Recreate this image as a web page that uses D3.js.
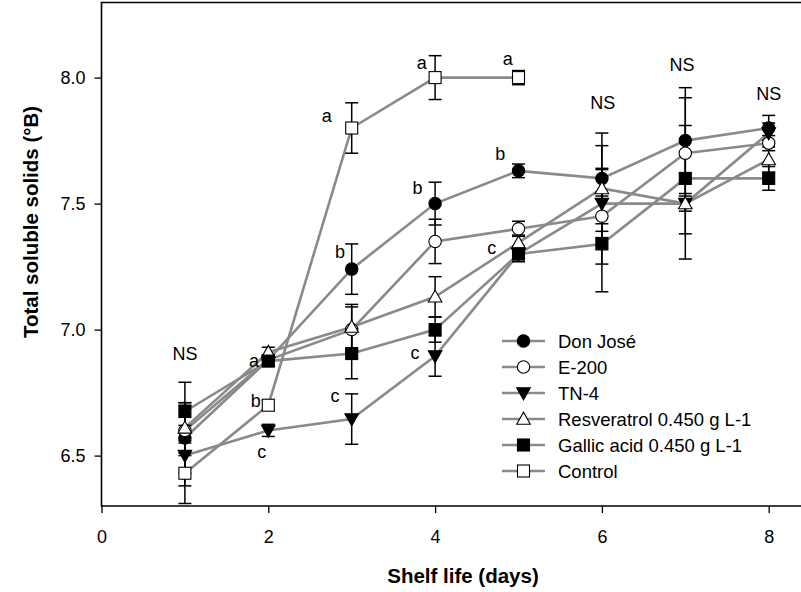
<!DOCTYPE html>
<html>
<head>
<meta charset="utf-8">
<script src="https://cdn.jsdelivr.net/npm/d3@7"></script>
<style>
  body { margin: 0; background: #fff; }
  svg { display: block; font-family: "Liberation Sans", Arial, sans-serif; }
</style>
</head>
<body>
<svg id="chart" width="801" height="592"></svg>
<script>
// Shelf life (days)
var days = [1, 2, 3, 4, 5, 6, 7, 8];
var xTicks = [0, 2, 4, 6, 8];
var yTicks = [6.5, 7.0, 7.5, 8.0];

// Series means and error values (°B)
var donJose = [6.57, 6.88, 7.24, 7.50, 7.63, 7.60, 7.75, 7.80];
var donJoseErr = [0.14, 0.02, 0.10, 0.085, 0.027, 0.18, 0.21, 0.05];
var e200 = [6.60, 6.88, 7.00, 7.35, 7.40, 7.45, 7.70, 7.74];
var e200Err = [0.10, 0.02, 0.09, 0.088, 0.03, 0.19, 0.11, 0.03];
var tn4 = [6.50, 6.60, 6.645, 6.895, 7.30, 7.50, 7.50, 7.78];
var tn4Err = [0.12, 0.024, 0.10, 0.08, 0.03, 0.135, 0.12, 0.04];
var resveratrol = [6.61, 6.91, 7.01, 7.13, 7.345, 7.56, 7.50, 7.675];
var resveratrolErr = [0.10, 0.02, 0.09, 0.08, 0.03, 0.17, 0.03, 0.05];
var gallic = [6.675, 6.875, 6.905, 7.00, 7.30, 7.34, 7.60, 7.60];
var gallicErr = [0.116, 0.02, 0.10, 0.05, 0.03, 0.19, 0.32, 0.047];
var control = [6.43, 6.70, 7.80, 8.00, 8.00];
var controlErr = [0.12, 0.02, 0.10, 0.087, 0.028];

var seriesNames = ["Don José", "E-200", "TN-4", "Resveratrol 0.450 g L-1", "Gallic acid 0.450 g L-1", "Control"];

// Significance letters: text, day, value
var letterText = ["NS", "a", "b", "c", "a", "b", "c", "a", "b", "c", "a", "b", "c", "NS", "NS", "NS"];
var letterDay = [1.0, 1.83, 1.85, 1.92, 2.70, 2.86, 2.80, 3.84, 3.79, 3.76, 4.87, 4.78, 4.68, 6.01, 6.96, 8.0];
var letterVal = [6.905, 6.877, 6.718, 6.517, 7.849, 7.31, 6.738, 8.06, 7.563, 6.909, 8.075, 7.698, 7.325, 7.90, 8.05, 7.937];

var svg = d3.select("#chart");
var x = d3.scaleLinear().domain([0, 8]).range([101.5, 768.7]);
var y = d3.scaleLinear().domain([6.3, 8.3]).range([506, 2]);

var series = [
  { name: seriesNames[0], vals: donJose, err: donJoseErr, shape: "circle", fill: "#000" },
  { name: seriesNames[1], vals: e200, err: e200Err, shape: "circle", fill: "#fff" },
  { name: seriesNames[2], vals: tn4, err: tn4Err, shape: "tridown", fill: "#000" },
  { name: seriesNames[3], vals: resveratrol, err: resveratrolErr, shape: "triup", fill: "#fff" },
  { name: seriesNames[4], vals: gallic, err: gallicErr, shape: "square", fill: "#000" },
  { name: seriesNames[5], vals: control, err: controlErr, shape: "square", fill: "#fff" }
];

function drawMarker(g, shape, fill, cx, cy) {
  if (shape === "circle") {
    g.append("circle").attr("cx", cx).attr("cy", cy).attr("r", 6.2)
      .attr("fill", fill).attr("stroke", "#000").attr("stroke-width", 1.1);
  } else if (shape === "square") {
    g.append("rect").attr("x", cx - 6).attr("y", cy - 6).attr("width", 12).attr("height", 12)
      .attr("fill", fill).attr("stroke", "#000").attr("stroke-width", 1.1);
  } else {
    var dir = shape === "triup" ? -1 : 1;
    var p = [[cx - 6.8, cy - dir * 5.2], [cx + 6.8, cy - dir * 5.2], [cx, cy + dir * 6.8]];
    g.append("path").attr("d", "M" + p.join("L") + "Z")
      .attr("fill", fill).attr("stroke", "#000").attr("stroke-width", 1.1);
  }
}

var plot = svg.append("g");
var line = d3.line().x(function (d) { return x(d[0]); }).y(function (d) { return y(d[1]); });

// Lines first
series.forEach(function (s) {
  var pts = s.vals.map(function (v, i) { return [days[i], v]; });
  plot.append("path").attr("d", line(pts)).attr("fill", "none")
    .attr("stroke", "#8a8a8a").attr("stroke-width", 2.6);
});

// Error bars
series.forEach(function (s) {
  s.vals.forEach(function (v, i) {
    var cx = x(days[i]), top = y(v + s.err[i]), bot = y(v - s.err[i]);
    var eg = plot.append("g").attr("stroke", "#000").attr("stroke-width", 1.5);
    eg.append("line").attr("x1", cx).attr("x2", cx).attr("y1", top).attr("y2", bot);
    eg.append("line").attr("x1", cx - 6.5).attr("x2", cx + 6.5).attr("y1", top).attr("y2", top);
    eg.append("line").attr("x1", cx - 6.5).attr("x2", cx + 6.5).attr("y1", bot).attr("y2", bot);
  });
});

// Symbols
series.forEach(function (s) {
  s.vals.forEach(function (v, i) {
    drawMarker(plot, s.shape, s.fill, x(days[i]), y(v));
  });
});

// Letters
var lg = svg.append("g").attr("font-size", 18).attr("fill", "#000").attr("text-anchor", "middle");
letterText.forEach(function (t, i) {
  lg.append("text").attr("x", x(letterDay[i])).attr("y", y(letterVal[i])).attr("dy", "0.36em").text(t);
});

// Axes
var xAxis = svg.append("g").attr("transform", "translate(0,506)")
  .call(d3.axisBottom(x).tickValues(xTicks).tickFormat(d3.format("d")).tickSize(7).tickPadding(17));
var yAxis = svg.append("g").attr("transform", "translate(101.5,0)")
  .call(d3.axisLeft(y).tickValues(yTicks).tickFormat(d3.format(".1f")).tickSize(7).tickPadding(9));
[xAxis, yAxis].forEach(function (a) {
  a.select(".domain").remove();
  a.selectAll(".tick line").attr("stroke", "#000").attr("stroke-width", 1.3);
  a.selectAll("text").attr("font-size", 18).attr("fill", "#000")
    .attr("font-family", "'Liberation Sans', Arial, sans-serif");
});
// Frame: left, bottom, top
svg.append("path").attr("d", "M801,2.5H101.5V506H801").attr("fill", "none")
  .attr("stroke", "#000").attr("stroke-width", 1.6);

// Titles
svg.append("text").attr("x", 463).attr("y", 583).attr("text-anchor", "middle")
  .attr("font-size", 20.5).attr("font-weight", "bold").text("Shelf life (days)");
svg.append("text").attr("transform", "translate(38,222) rotate(-90)").attr("text-anchor", "middle")
  .attr("font-size", 20.5).attr("font-weight", "bold").text("Total soluble solids (°B)");

// Legend
var leg = svg.append("g");
series.forEach(function (s, i) {
  var ly = 341 + i * 26;
  leg.append("line").attr("x1", 502).attr("x2", 545).attr("y1", ly).attr("y2", ly)
    .attr("stroke", "#8a8a8a").attr("stroke-width", 2.6);
  drawMarker(leg, s.shape, s.fill, 523.5, ly);
  leg.append("text").attr("x", 558).attr("y", ly).attr("dy", "0.36em")
    .attr("font-size", 18.5).text(s.name);
});
</script>
</body>
</html>
